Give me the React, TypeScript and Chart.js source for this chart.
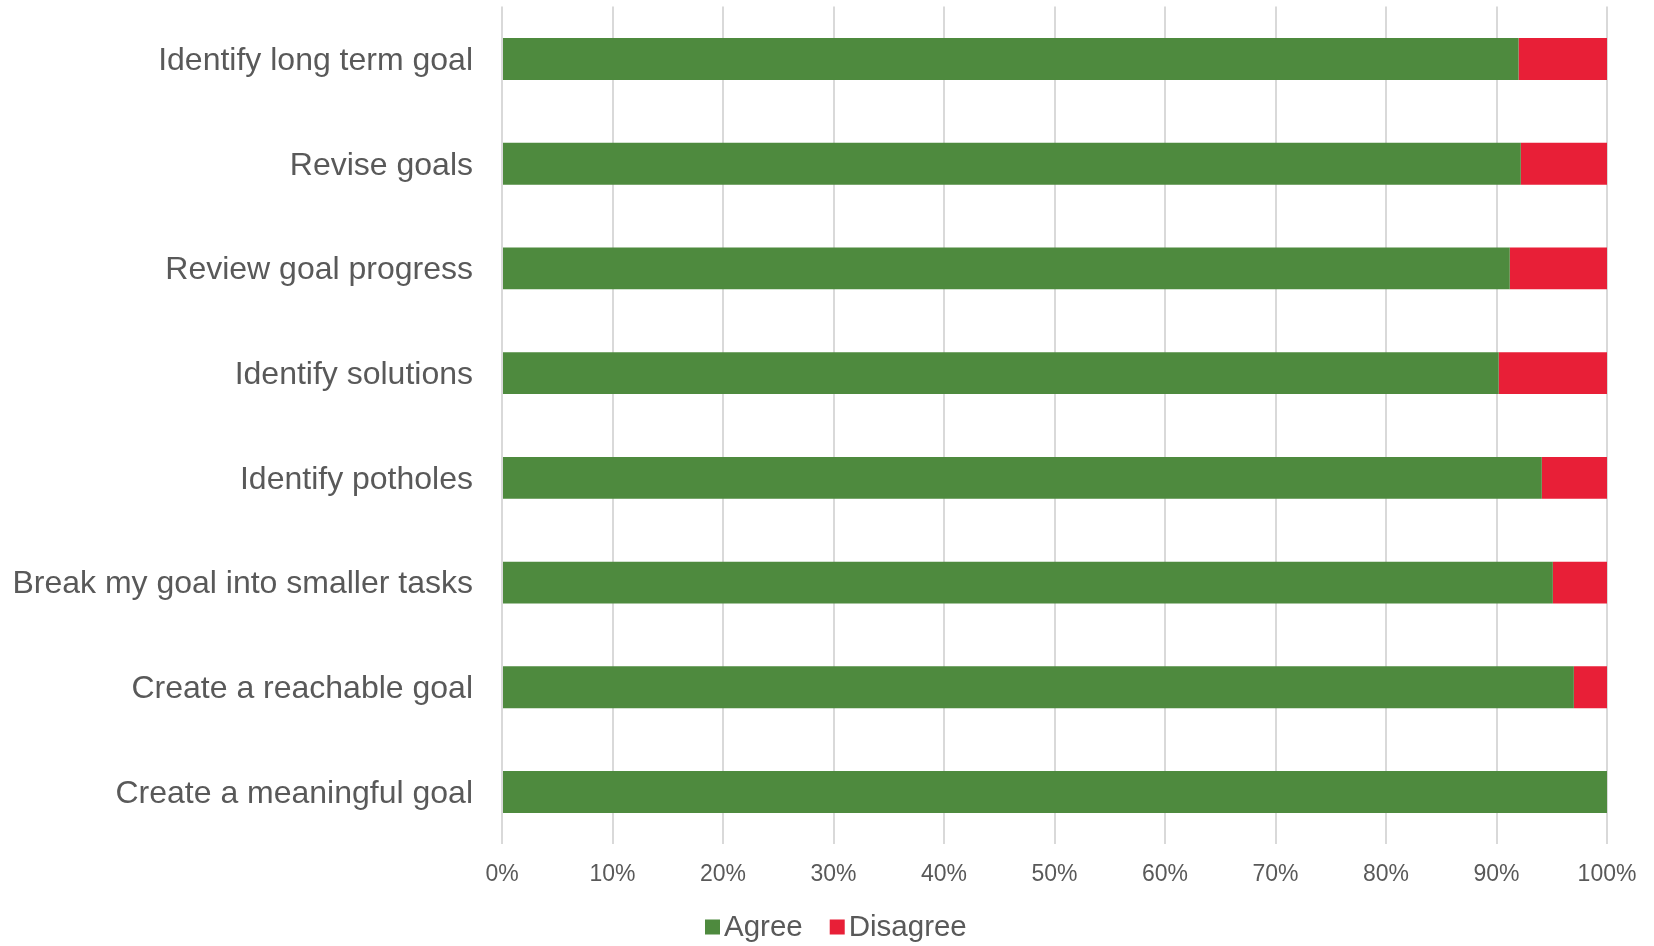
import React, { useEffect, useRef } from "react";
import { Chart, registerables } from "chart.js";

Chart.register(...registerables);

const categories = [
  "Identify long term goal",
  "Revise goals",
  "Review goal progress",
  "Identify solutions",
  "Identify potholes",
  "Break my goal into smaller tasks",
  "Create a reachable goal",
  "Create a meaningful goal",
];
const agreeValues = [92.0, 92.2, 91.2, 90.2, 94.1, 95.1, 97.0, 100.0];
const disagreeValues = [8.0, 7.8, 8.8, 9.8, 5.9, 4.9, 3.0, 0.0];
const seriesNames = ["Agree", "Disagree"];
const seriesColors = ["#4E8A3E", "#E81F37"];

const FONT = "'Liberation Sans', Arial, sans-serif";
const TEXT = "#595959";

const customLegend = {
  id: "customLegend",
  afterDraw(chart: any) {
    const ctx = chart.ctx;
    ctx.save();
    ctx.font = `29.5px ${FONT}`;
    ctx.textBaseline = "middle";
    ctx.textAlign = "left";
    const box = 15;
    const gap = 4;
    const itemSpacing = 27;
    const cy = 927;
    let x = 705;
    chart.data.datasets.forEach((ds: any) => {
      ctx.fillStyle = ds.backgroundColor;
      ctx.fillRect(x, cy - box / 2, box, box);
      x += box + gap;
      ctx.fillStyle = TEXT;
      ctx.fillText(ds.label, x, cy + 1);
      x += ctx.measureText(ds.label).width + itemSpacing;
    });
    ctx.restore();
  },
};

export default function App() {
  const ref = useRef<HTMLCanvasElement | null>(null);

  useEffect(() => {
    document.body.style.margin = "0";
    const canvas = ref.current;
    if (!canvas) return;
    const chart = new Chart(canvas, {
      type: "bar",
      data: {
        labels: categories,
        datasets: [
          {
            label: seriesNames[0],
            data: agreeValues,
            backgroundColor: seriesColors[0],
            borderWidth: 0,
          },
          {
            label: seriesNames[1],
            data: disagreeValues,
            backgroundColor: seriesColors[1],
            borderWidth: 0,
          },
        ],
      },
      options: {
        indexAxis: "y",
        responsive: false,
        animation: false,
        maintainAspectRatio: false,
        layout: { padding: { top: 6.6, right: 47, left: 0, bottom: 49 } },
        datasets: {
          bar: { categoryPercentage: 1, barPercentage: 0.4 },
        },
        scales: {
          x: {
            stacked: true,
            min: 0,
            max: 100,
            border: { display: false },
            grid: { color: "#D9D9D9", lineWidth: 2, drawTicks: false },
            ticks: {
              stepSize: 10,
              padding: 16,
              color: TEXT,
              font: { family: FONT, size: 23 },
              callback: (v: any) => v + "%",
            },
            afterFit: (s: any) => {
              s.height = 52.6;
              s.paddingLeft = 0;
              s.paddingRight = 0;
            },
          },
          y: {
            stacked: true,
            border: { display: false },
            grid: { display: false, drawTicks: false },
            ticks: {
              padding: 29,
              labelOffset: 2,
              color: TEXT,
              font: { family: FONT, size: 32 },
            },
            afterFit: (s: any) => {
              s.width = 502;
              s.paddingTop = 0;
              s.paddingBottom = 0;
            },
          },
        },
        plugins: {
          legend: { display: false },
          tooltip: { enabled: false },
        },
      },
      plugins: [customLegend],
    });
    return () => chart.destroy();
  }, []);

  return (
    <div style={{ width: 1654, height: 946 }}>
      <canvas ref={ref} width={1654} height={946} />
    </div>
  );
}
